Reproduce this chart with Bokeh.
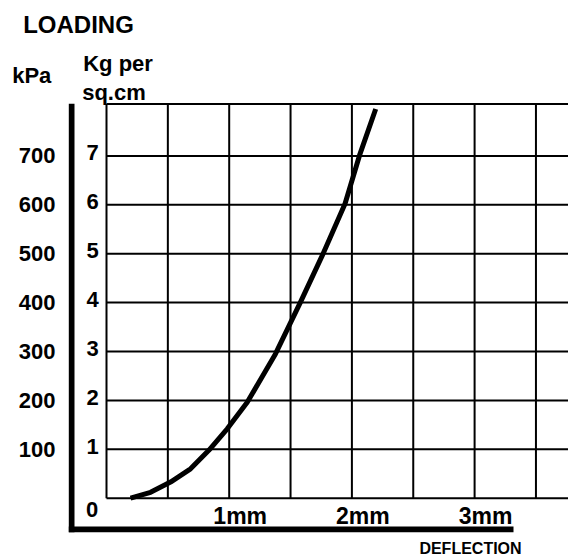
from bokeh.plotting import figure
from bokeh.models import Range1d
from bokeh.core.properties import value
from bokeh.embed import file_html
from bokeh.resources import INLINE

# ---- data ----
load_kg_ticks = [1, 2, 3, 4, 5, 6, 7]
load_kg_labels = ["1", "2", "3", "4", "5", "6", "7"]
load_kpa_labels = ["100", "200", "300", "400", "500", "600", "700"]
deflection_ticks = [1, 2, 3]
deflection_labels = ["1mm", "2mm", "3mm"]
grid_x_mm = [0.0, 0.5, 1.0, 1.5, 2.0, 2.5, 3.0, 3.5]
grid_y_kg = [0, 1, 2, 3, 4, 5, 6, 7, 8.06]

deflection_mm = [0.196, 0.359, 0.522, 0.685, 0.834, 0.984, 1.147, 1.377,
                 1.581, 1.758, 1.944, 2.062, 2.194]
load_kg = [0.0, 0.12, 0.33, 0.60, 0.98, 1.42, 1.96, 2.95,
           4.01, 4.96, 6.02, 7.01, 7.96]

# ---- figure ----
W, H = 568, 558
px_per_mm = 122.7
px_per_kg = 48.9
x0_px, y0_px = 106, 497.7      # data origin in figure pixels
x_start = -x0_px / px_per_mm
x_end = (W - x0_px) / px_per_mm
y_start = -(H - y0_px) / px_per_kg
y_end = y0_px / px_per_kg

def dx(px):   # pixel offset -> data x
    return px / px_per_mm

def dy(px):
    return px / px_per_kg

p = figure(width=W, height=H, output_backend="svg", toolbar_location=None,
           x_range=Range1d(x_start, x_end), y_range=Range1d(y_start, y_end),
           min_border=0, outline_line_color=None)
p.xaxis.visible = False
p.yaxis.visible = False
p.grid.visible = False
p.background_fill_color = "white"
p.border_fill_color = "white"

FONT = value("Liberation Sans")
top = grid_y_kg[-1]

# graph-paper grid
p.segment(x0=grid_x_mm, y0=[0] * len(grid_x_mm), x1=grid_x_mm, y1=[top] * len(grid_x_mm),
          line_color="black", line_width=2)
p.segment(x0=[0] * len(grid_y_kg), y0=grid_y_kg, x1=[x_end + 0.1] * len(grid_y_kg), y1=grid_y_kg,
          line_color="black", line_width=2)

# thick axis lines
ax_x = dx(71.15 - 106)
ax_y = -dy(528.85 - 497.7)
p.segment(x0=[ax_x], y0=[top + dy(0.3)], x1=[ax_x], y1=[ax_y - dy(2.85)],
          line_color="black", line_width=5.7, line_cap="butt")
p.segment(x0=[ax_x - dx(2.85)], y0=[ax_y], x1=[dx(513 - 106)], y1=[ax_y],
          line_color="black", line_width=5.7, line_cap="butt")

# curve
p.line(deflection_mm, load_kg, line_color="black", line_width=5,
       line_cap="butt", line_join="round")

# kPa labels
p.text(x=[dx(55 - 106)] * len(load_kg_ticks), y=load_kg_ticks, text=load_kpa_labels,
       text_font=FONT, text_font_style="bold", text_font_size="22px",
       text_align="right", text_baseline="middle", text_color="black")
# kg labels
p.text(x=[dx(92 - 106)] * len(load_kg_ticks), y=load_kg_ticks, text=load_kg_labels,
       text_font=FONT, text_font_style="bold", text_font_size="22px",
       text_align="center", text_baseline="middle", text_color="black", y_offset=-3)
p.text(x=[dx(91.5 - 106)], y=[0], text=["0"],
       text_font=FONT, text_font_style="bold", text_font_size="22px",
       text_align="center", text_baseline="middle", text_color="black", y_offset=11)
# deflection labels
p.text(x=deflection_ticks, y=[0] * len(deflection_ticks), text=deflection_labels,
       text_font=FONT, text_font_style="bold", text_font_size="23px",
       text_align="center", text_baseline="middle", text_color="black",
       x_offset=11, y_offset=18)

# titles
p.text(x=[dx(22.7 - 106)], y=[dy(497.7 - 24.2)], text=["LOADING"],
       text_font=FONT, text_font_style="bold", text_font_size="24px",
       text_align="left", text_baseline="middle", text_color="black")
p.text(x=[dx(82.7 - 106)], y=[dy(497.7 - 63.3)], text=["Kg per"],
       text_font=FONT, text_font_style="bold", text_font_size="22px",
       text_align="left", text_baseline="alphabetic", text_color="black")
p.text(x=[dx(81.7 - 106)], y=[dy(497.7 - 91.7)], text=["sq.cm"],
       text_font=FONT, text_font_style="bold", text_font_size="22px",
       text_align="left", text_baseline="alphabetic", text_color="black")
p.text(x=[dx(11.7 - 106)], y=[dy(497.7 - 75)], text=["kPa"],
       text_font=FONT, text_font_style="bold", text_font_size="22px",
       text_align="left", text_baseline="middle", text_color="black")
p.text(x=[dx(470 - 106)], y=[dy(497.7 - 547.5)], text=["DEFLECTION"],
       text_font=FONT, text_font_style="bold", text_font_size="16px",
       text_align="center", text_baseline="middle", text_color="black")

open("out.html", "w").write(file_html(p, INLINE))
